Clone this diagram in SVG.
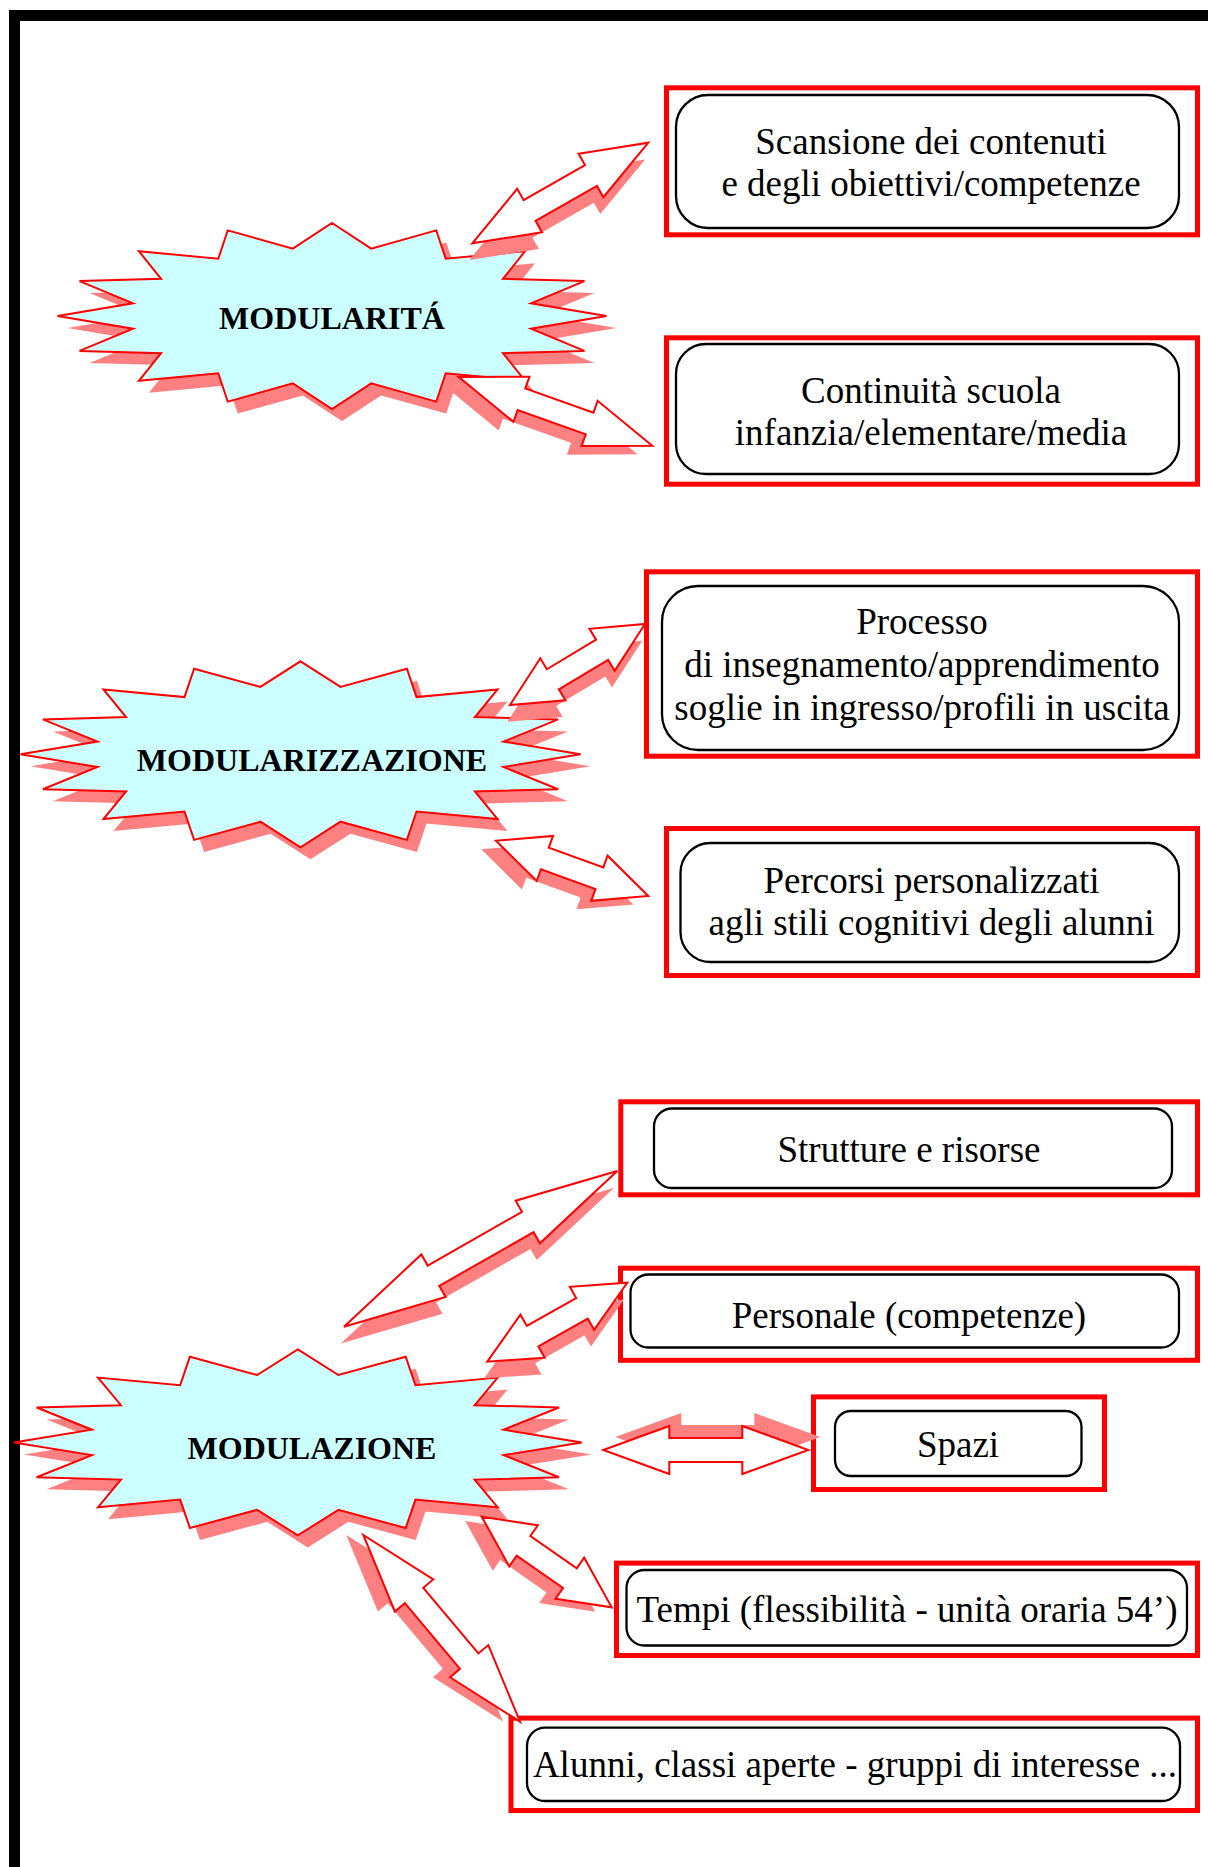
<svg xmlns="http://www.w3.org/2000/svg" width="1208" height="1867" viewBox="0 0 1208 1867">
<style>
.frame{fill:#000}
.red{fill:#fff;stroke:#FF0000;stroke-width:5}
.inner{fill:#fff;stroke:#000;stroke-width:2.3}
.lbl{font-family:"Liberation Serif","Times New Roman",serif;font-size:37px;text-anchor:middle;fill:#000}
.slbl{font-family:"Liberation Serif","Times New Roman",serif;font-weight:bold;font-size:32px;text-anchor:middle;fill:#000}
.star{fill:#CCFFFF;stroke:#FF0000;stroke-width:2;stroke-linejoin:miter}
.sh{fill:#FF8080}
.arr{fill:#fff;stroke:#FF0000;stroke-width:2;stroke-linejoin:miter}
</style>
<defs>
<path id="starShape" d="M0,-93 L40,-67.4 L106.4,-85.6 L116,-57.2 L197,-64.8 L174.4,-37.2 L257.6,-34.9 L203,-12.7 L280,0 L203,12.7 L257.6,34.9 L174.4,37.2 L197,64.8 L116,57.2 L106.4,85.6 L40,67.4 L0,93 L-40,67.4 L-106.4,85.6 L-116,57.2 L-197,64.8 L-174.4,37.2 L-257.6,34.9 L-203,12.7 L-280,0 L-203,-12.7 L-257.6,-34.9 L-174.4,-37.2 L-197,-64.8 L-116,-57.2 L-106.4,-85.6 L-40,-67.4 Z"/>
</defs>
<rect width="1208" height="1867" fill="#fff"/>
<g id="page-frame">
<rect class="frame" x="9" y="10" width="1199" height="11"/>
<rect class="frame" x="9" y="10" width="11" height="1857"/>
</g>

<g id="node-modularita">
<use href="#starShape" class="sh" transform="translate(342,328) scale(0.98,1)"/>
<use href="#starShape" class="star" transform="translate(332,316) scale(0.98,1)"/>
<text class="slbl" x="332" y="329">MODULARITÁ</text>
</g>
<g id="node-modularizzazione">
<use href="#starShape" class="sh" transform="translate(310.5,766.3)"/>
<use href="#starShape" class="star" transform="translate(300.5,754.3)"/>
<text class="slbl" x="312" y="770.7">MODULARIZZAZIONE</text>
</g>
<g id="node-modulazione">
<use href="#starShape" class="sh" transform="translate(307.8,1454.4) scale(1.014,1)"/>
<use href="#starShape" class="star" transform="translate(297.8,1442.4) scale(1.014,1)"/>
<text class="slbl" x="312" y="1459">MODULAZIONE</text>
</g>

<g id="node-scansione">
<rect class="red" x="666.5" y="87.8" width="531" height="147"/>
<rect class="inner" x="676" y="95" width="503" height="133" rx="32"/>
<text class="lbl" x="931" y="154">Scansione dei contenuti</text>
<text class="lbl" x="931" y="196">e degli obiettivi/competenze</text>
</g>
<g id="node-continuita">
<rect class="red" x="666.5" y="337.8" width="531" height="146.4"/>
<rect class="inner" x="676" y="344" width="503" height="130" rx="30"/>
<text class="lbl" x="931" y="403">Continuità scuola</text>
<text class="lbl" x="931" y="445">infanzia/elementare/media</text>
</g>
<g id="node-processo">
<rect class="red" x="646.5" y="571.8" width="551" height="184.4"/>
<rect class="inner" x="662" y="586" width="517" height="164" rx="36"/>
<text class="lbl" x="922" y="634">Processo</text>
<text class="lbl" x="922" y="677">di insegnamento/apprendimento</text>
<text class="lbl" x="922" y="720">soglie in ingresso/profili in uscita</text>
</g>
<g id="node-percorsi">
<rect class="red" x="666.5" y="828.5" width="531" height="147"/>
<rect class="inner" x="680.5" y="843" width="498.5" height="119" rx="30"/>
<text class="lbl" x="931.5" y="893">Percorsi personalizzati</text>
<text class="lbl" x="931.5" y="935">agli stili cognitivi degli alunni</text>
</g>
<g id="node-strutture">
<rect class="red" x="620.8" y="1101.8" width="576.7" height="93"/>
<rect class="inner" x="654" y="1108.5" width="518" height="79.5" rx="18"/>
<text class="lbl" x="909" y="1162">Strutture e risorse</text>
</g>
<g id="node-personale">
<rect class="red" x="620.5" y="1268.2" width="577" height="92.1"/>
<rect class="inner" x="630.5" y="1274.5" width="548.5" height="73" rx="18"/>
<text class="lbl" x="909" y="1327.5">Personale (competenze)</text>
</g>
<g id="node-spazi">
<rect class="red" x="813.5" y="1396.9" width="291" height="92.6"/>
<rect class="inner" x="835" y="1411" width="246.5" height="65" rx="16"/>
<text class="lbl" x="958" y="1457">Spazi</text>
</g>
<g id="node-tempi">
<rect class="red" x="616.5" y="1563.1" width="581" height="92.4"/>
<rect class="inner" x="626.5" y="1570" width="560.5" height="75.5" rx="18"/>
<text class="lbl" x="907" y="1622">Tempi (flessibilità - unità oraria 54’)</text>
</g>
<g id="node-alunni">
<rect class="red" x="511" y="1718.1" width="686.5" height="92.4"/>
<rect class="inner" x="527" y="1727.7" width="653" height="73.3" rx="18"/>
<text class="lbl" x="855" y="1777">Alunni, classi aperte - gruppi di interesse ...</text>
</g>

<g id="connectors">
<g transform="translate(472.3,243.3) rotate(-29.75)">
<polygon class="sh" transform="translate(-11,13)" points="0,0 66,-25 66,-12 136.7,-12 136.7,-25 202.7,0 136.7,25 136.7,12 66,12 66,25"/>
<polygon class="arr" points="0,0 66,-25 66,-12 136.7,-12 136.7,-25 202.7,0 136.7,25 136.7,12 66,12 66,25"/>
</g>
<g transform="translate(458.8,377) rotate(19.55)">
<polygon class="sh" transform="translate(-11,13)" points="0,0 66.5,-24 66.5,-11.5 138.8,-11.5 138.8,-24 205.3,0 138.8,24 138.8,11.5 66.5,11.5 66.5,24"/>
<polygon class="arr" points="0,0 66.5,-24 66.5,-11.5 138.8,-11.5 138.8,-24 205.3,0 138.8,24 138.8,11.5 66.5,11.5 66.5,24"/>
</g>
<g transform="translate(510,705) rotate(-30.96)">
<polygon class="sh" transform="translate(-11,13)" points="0,0 50,-24.5 50,-11.7 107.4,-11.7 107.4,-24.5 157.4,0 107.4,24.5 107.4,11.7 50,11.7 50,24.5"/>
<polygon class="arr" points="0,0 50,-24.5 50,-11.7 107.4,-11.7 107.4,-24.5 157.4,0 107.4,24.5 107.4,11.7 50,11.7 50,24.5"/>
</g>
<g transform="translate(496,840.7) rotate(19.95)">
<polygon class="sh" transform="translate(-11,13)" points="0,0 52,-24 52,-11.5 110,-11.5 110,-24 162,0 110,24 110,11.5 52,11.5 52,24"/>
<polygon class="arr" points="0,0 52,-24 52,-11.5 110,-11.5 110,-24 162,0 110,24 110,11.5 52,11.5 52,24"/>
</g>
<g transform="translate(344,1326.7) rotate(-29.67)">
<polygon class="sh" transform="translate(-11,13)" points="0,0 103,-24.5 103,-11.7 211.5,-11.7 211.5,-24.5 314.5,0 211.5,24.5 211.5,11.7 103,11.7 103,24.5"/>
<polygon class="arr" points="0,0 103,-24.5 103,-11.7 211.5,-11.7 211.5,-24.5 314.5,0 211.5,24.5 211.5,11.7 103,11.7 103,24.5"/>
</g>
<g transform="translate(487.3,1361.7) rotate(-29.43)">
<polygon class="sh" transform="translate(-11,13)" points="0,0 52,-24.7 52,-11.8 108.7,-11.8 108.7,-24.7 160.7,0 108.7,24.7 108.7,11.8 52,11.8 52,24.7"/>
<polygon class="arr" points="0,0 52,-24.7 52,-11.8 108.7,-11.8 108.7,-24.7 160.7,0 108.7,24.7 108.7,11.8 52,11.8 52,24.7"/>
</g>
<g transform="translate(603.3,1450)">
<polygon class="sh" transform="translate(12,-13)" points="0,0 66,-24 66,-12 139,-12 139,-24 205,0 139,24 139,12 66,12 66,24"/>
<polygon class="arr" points="0,0 66,-24 66,-12 139,-12 139,-24 205,0 139,24 139,12 66,12 66,24"/>
</g>
<g transform="translate(481.7,1516.7) rotate(34.88)">
<polygon class="sh" transform="translate(-11,13)" points="0,0 51,-25 51,-12 107.5,-12 107.5,-25 158.5,0 107.5,25 107.5,12 51,12 51,25"/>
<polygon class="arr" points="0,0 51,-25 51,-12 107.5,-12 107.5,-25 158.5,0 107.5,25 107.5,12 51,12 51,25"/>
</g>
<g transform="translate(363.3,1535) rotate(49.99)">
<polygon class="sh" transform="translate(-11,13)" points="0,0 79,-25 79,-12 164.7,-12 164.7,-25 243.7,0 164.7,25 164.7,12 79,12 79,25"/>
<polygon class="arr" points="0,0 79,-25 79,-12 164.7,-12 164.7,-25 243.7,0 164.7,25 164.7,12 79,12 79,25"/>
</g>
</g>
</svg>
